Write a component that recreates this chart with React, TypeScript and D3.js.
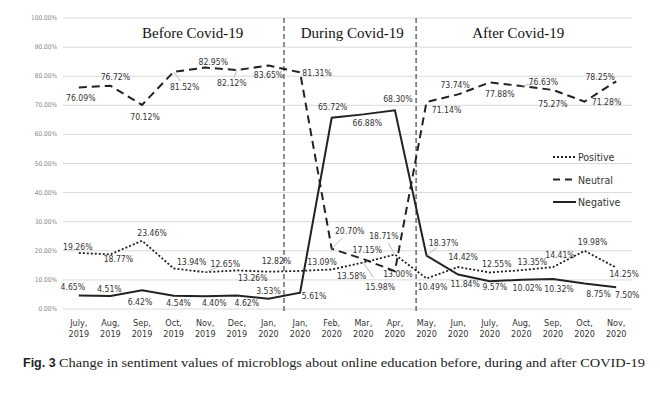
import React from "react";
import * as d3 from "d3";

const months = ["July,", "Aug,", "Sep,", "Oct,", "Nov,", "Dec,", "Jan,", "Jan,", "Feb,", "Mar,", "Apr,", "May,", "Jun,", "July,", "Aug,", "Sep,", "Oct,", "Nov,"];
const years = ["2019", "2019", "2019", "2019", "2019", "2019", "2020", "2020", "2020", "2020", "2020", "2020", "2020", "2020", "2020", "2020", "2020", "2020"];

const positive = [19.26, 18.77, 23.46, 13.94, 12.65, 13.26, 12.82, 13.09, 13.58, 15.98, 18.71, 10.49, 14.42, 12.55, 13.35, 14.41, 19.98, 14.25];
const neutral = [76.09, 76.72, 70.12, 81.52, 82.95, 82.12, 83.65, 81.31, 20.70, 17.15, 13.00, 71.14, 73.74, 77.88, 76.63, 75.27, 71.28, 78.25];
const negative = [4.65, 4.51, 6.42, 4.54, 4.40, 4.62, 3.53, 5.61, 65.72, 66.88, 68.30, 18.37, 11.84, 9.57, 10.02, 10.32, 8.75, 7.50];

const yTicks = [0, 10, 20, 30, 40, 50, 60, 70, 80, 90, 100];
const periods = ["Before Covid-19", "During Covid-19", "After Covid-19"];
const periodCenters = [3.6, 8.65, 13.9]; // in category-index units
const dividers = [6.49, 10.67];

// label offsets [dx, dy, leader]
const posOff: [number, number, number][] = [
  [-1, -6, 0], [8, 5, 0], [10, -8, 0], [18, -6, 0], [20, -8, 1], [16, 8, 0], [8, -11, 0], [22, -9, 0], [20, 7, 0],
  [17, 25, 1], [-11, -19, 1], [6, 9, 0], [5, -10, 0], [7, -8, 0], [11, -8, 0], [7, -12, 0], [8, -9, 0], [8, 6, 0],
];
const neuOff: [number, number, number][] = [
  [2, 10, 0], [5, -9, 0], [3, 12, 0], [11, 15, 1], [8, -6, 0], [-5, 13, 1], [0, 9, 0], [17, 1, 0], [18, -18, 1],
  [4, -9, 0], [3, 3, 0], [20, 8, 0], [-3, -9, 0], [10, 12, 0], [22, -4, 1], [0, 14, 0], [22, 0, 0], [-16, -4, 0],
];
const negOff: [number, number, number][] = [
  [-6, -8, 0], [-1, -7, 0], [-2, 12, 0], [5, 7, 0], [9, 7, 0], [10, 7, 0], [0, -8, 0], [14, 3, 0], [1, -11, 0],
  [4, 9, 0], [3, -11, 0], [17, -13, 1], [7, 9, 0], [5, 6, 0], [6, 8, 0], [6, 10, 0], [14, 10, 0], [11, 8, 0],
];

const W = 660, H = 393;
const left = 63, right = 632, top = 18, bottom = 309;

export default function App() {
  const idx = d3.range(months.length);
  const x = d3.scalePoint<number>().domain(idx).range([left, right]).padding(0.5);
  const xi = d3.scaleLinear().domain([0, months.length - 1]).range([x(0)!, x(months.length - 1)!]);
  const y = d3.scaleLinear().domain([0, 100]).range([bottom, top]);
  const line = d3.line<number>().x((_, i) => x(i)!).y((d) => y(d));

  const series = [
    { name: "Positive", data: positive, dash: "2,2", width: 1.8, off: posOff },
    { name: "Neutral", data: neutral, dash: "8,5", width: 2, off: neuOff },
    { name: "Negative", data: negative, dash: "", width: 2, off: negOff },
  ];

  const labelFont = "'DejaVu Sans Condensed', 'Liberation Sans', sans-serif";

  return (
    <svg width={W} height={H} style={{ position: "absolute", left: 0, top: 0, background: "#fff" }}>
      <rect x={0} y={0} width={W} height={H} fill="#fff" />
      {yTicks.map((t) => (
        <g key={t}>
          <line x1={left} x2={right} y1={y(t)} y2={y(t)} stroke="#d9d9d9" strokeWidth={1} />
          <text x={57} y={y(t)} textAnchor="end" dominantBaseline="central" fontSize={6.5} fill="#888" fontFamily={labelFont}>
            {t.toFixed(2)}%
          </text>
        </g>
      ))}
      {dividers.map((d, i) => (
        <line key={i} x1={xi(d)} x2={xi(d)} y1={top} y2={bottom + 4} stroke="#555" strokeWidth={1.3} strokeDasharray="5,3" />
      ))}
      {periods.map((p, i) => (
        <text key={p} x={xi(periodCenters[i])} y={33} textAnchor="middle" dominantBaseline="central" fontSize={15} fontFamily="'Liberation Serif', 'Times New Roman', serif" fill="#111">
          {p}
        </text>
      ))}
      {series.map((s) => (
        <path key={s.name} d={line(s.data)!} fill="none" stroke="#222" strokeWidth={s.width} strokeDasharray={s.dash || undefined} />
      ))}
      {series.map((s) =>
        s.data.map((v, i) => {
          const [dx, dy, lead] = s.off[i];
          const px = x(i)!, py = y(v);
          return (
            <g key={s.name + i}>
              {lead ? <line x1={px} y1={py} x2={px + dx * 0.6} y2={py + dy * 0.6} stroke="#aaa" strokeWidth={0.8} /> : null}
              <text x={px + dx} y={py + dy} textAnchor="middle" dominantBaseline="central" fontSize={8.6} fill="#333" fontFamily={labelFont}>
                {v.toFixed(2)}%
              </text>
            </g>
          );
        })
      )}
      {idx.map((i) => (
        <text key={i} x={x(i)!} textAnchor="middle" fontSize={9} fill="#333" fontFamily={labelFont}>
          <tspan x={x(i)!} y={326}>{months[i]}</tspan>
          <tspan x={x(i)!} y={337}>{years[i]}</tspan>
        </text>
      ))}
      {series.map((s, i) => (
        <g key={"lg" + s.name}>
          <line x1={553} x2={576} y1={157 + i * 22.5} y2={157 + i * 22.5} stroke="#222" strokeWidth={s.width} strokeDasharray={s.dash ? (s.name === "Neutral" ? "7,5" : s.dash) : undefined} />
          <text x={578} y={157 + i * 22.5} dominantBaseline="central" fontSize={10.5} fill="#333" fontFamily={labelFont}>
            {s.name}
          </text>
        </g>
      ))}
      <text x={23} y={367} fontSize={12.5} fontWeight="bold" fill="#222" fontFamily="'Liberation Sans', Arial, sans-serif">Fig. 3</text>
      <text x={59} y={367} fontSize={13.5} fill="#222" fontFamily="'Liberation Serif', 'Times New Roman', serif" textLength={586} lengthAdjust="spacingAndGlyphs">
        Change in sentiment values of microblogs about online education before, during and after COVID-19
      </text>
    </svg>
  );
}
